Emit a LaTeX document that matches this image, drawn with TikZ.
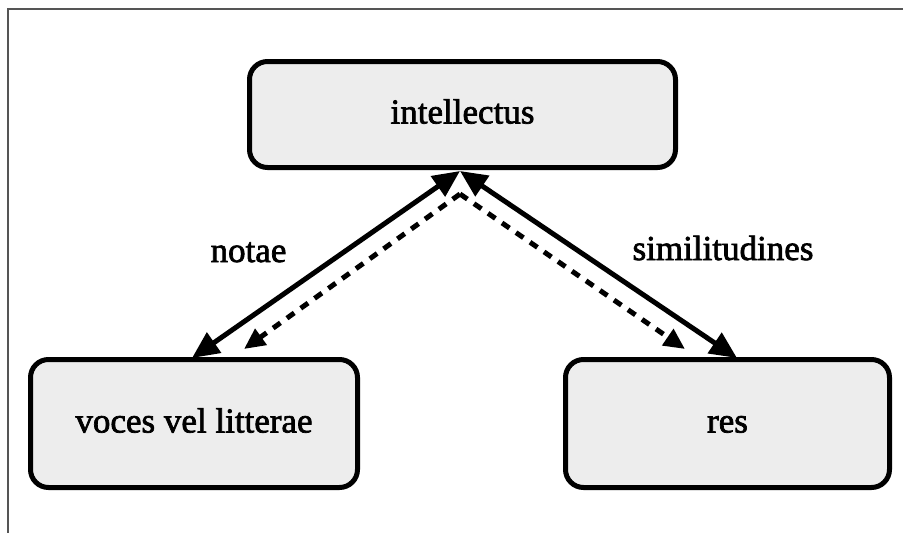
\documentclass[tikz,border=0pt]{standalone}
\usepackage{fontspec}
\setmainfont{Liberation Serif}
\newfontfamily\diagfont{Liberation Serif}[FakeBold=2]
\usetikzlibrary{arrows.meta}
\definecolor{boxfill}{HTML}{EDEDED}
\definecolor{framegray}{HTML}{555555}
\tikzset{
  conceptbox/.style={draw=black, fill=boxfill, line width=5pt, rounded corners=18pt,
    inner sep=0pt, text height=25pt, text depth=7pt,
    font=\diagfont\fontsize{35}{40}\selectfont},
  relation/.style={line width=5pt, {Triangle[length=27pt,width=24pt]}-{Triangle[length=27pt,width=24pt]}},
  dashedrel/.style={line width=5pt, dash pattern=on 9pt off 8pt, -{Triangle[length=21pt,width=19pt]}},
  relabel/.style={anchor=base, inner sep=0pt, font=\diagfont\fontsize{35}{40}\selectfont}
}
\begin{document}
\begin{tikzpicture}[x=1pt, y=-1pt]
  \useasboundingbox (0,0) rectangle (903,533);
  % partial frame
  \draw[framegray, line width=1.5pt] (8,533) -- (8,9) -- (903,9);

  % concept boxes
  \node[conceptbox, minimum width=426pt, minimum height=106pt] (intel) at (462.5,114.5) {intellectus};
  \node[conceptbox, minimum width=327pt, minimum height=128pt] (voces) at (194,423.5) {voces vel litterae};
  \node[conceptbox, minimum width=324pt, minimum height=128pt] (res) at (727.5,423.5) {res};

  % end points of the connectors
  \coordinate (apex) at (460,171);
  \coordinate (vocesend) at (192,358);
  \coordinate (resend) at (737,358);
  \coordinate (dapex) at (460,194);
  \coordinate (dvoces) at (244,349);
  \coordinate (dres) at (685,349);

  % solid two-way relations
  \draw[relation] (apex) -- (vocesend);
  \draw[relation] (apex) -- (resend);

  % dashed relations
  \draw[dashedrel] (dapex) -- (dvoces);
  \draw[dashedrel] (dapex) -- (dres);

  % labels
  \node[relabel] (notae) at (248.5,262) {notae};
  \node[relabel] (simil) at (723,260) {similitudines};
\end{tikzpicture}
\end{document}
